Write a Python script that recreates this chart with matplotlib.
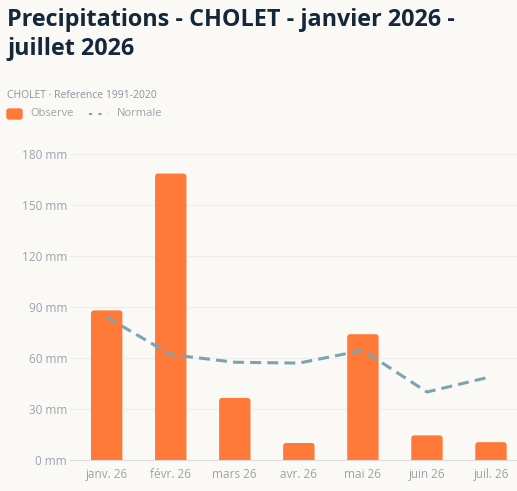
import matplotlib
matplotlib.use("Agg")
import matplotlib.pyplot as plt
from matplotlib.patches import FancyBboxPatch
from matplotlib.lines import Line2D

months = ["janv. 26", "févr. 26", "mars 26", "avr. 26", "mai 26", "juin 26", "juil. 26"]
observe = [88, 168.5, 36.5, 10, 74, 14.5, 10.5]
normale = [84, 62, 57.5, 57, 64.5, 40, 49]
yticks = [0, 30, 60, 90, 120, 150, 180]

bg = "#faf9f6"
orange = "#ff7a38"
teal = "#7ba5ae"
grey = "#9aa3ab"

W, H = 517, 491
fig = plt.figure(figsize=(W / 100, H / 100), dpi=100, facecolor=bg)
plt.rcParams["font.family"] = ["Open Sans", "DejaVu Sans"]

fig.text(7 / W, 1 - 8 / H, "Precipitations - CHOLET - janvier 2026 -\njuillet 2026",
         fontsize=16.8, fontweight="bold", color="#14283a", va="top", ha="left",
         linespacing=1.3)
fig.text(7 / W, 1 - 95 / H, "CHOLET · Reference 1991-2020", fontsize=7.5,
         color="#8a949c", va="center", ha="left")

# legend drawn by hand
fig.patches.append(FancyBboxPatch((7 / W, 1 - 119 / H), 15 / W, 10 / H,
                                  boxstyle="round,pad=0,rounding_size=0.004",
                                  transform=fig.transFigure, color=orange))
fig.text(30 / W, 1 - 114 / H, "Observe", fontsize=8, color=grey, va="center")
fig.lines.append(Line2D([89 / W, 108 / W], [1 - 114 / H] * 2, transform=fig.transFigure,
                        color=teal, lw=1.5, ls=(0, (1.5, 3))))
fig.text(117 / W, 1 - 114 / H, "Normale", fontsize=8, color=grey, va="center")

left, right = 70, 517
bottom, top = 460, 154
ax = fig.add_axes([left / W, 1 - bottom / H, (right - left) / W, (bottom - top) / H])
ax.set_facecolor(bg)
x = list(range(len(months)))
px_x = (right - left) / (6.406 + 0.573)
px_y = (bottom - top) / 180
for xi, v in zip(x, observe):
    ax.add_patch(FancyBboxPatch((xi - 0.245, -5), 0.49, v + 5,
                                boxstyle="round,pad=0,rounding_size=0.05",
                                mutation_aspect=px_x / px_y,
                                color=orange, lw=0, zorder=2))
ax.plot(x, normale, color=teal, lw=2.2, ls=(0, (3.6, 2)), zorder=3)

ax.set_xlim(-0.573, 6.406)
ax.set_ylim(0, 180)
ax.set_yticks(yticks)
ax.set_yticklabels([f"{t} mm" for t in yticks])
ax.set_xticks(x)
ax.set_xticklabels(months)
ax.tick_params(length=0, colors=grey, labelsize=8.5)
ax.tick_params(axis="y", pad=2)
ax.tick_params(axis="x", pad=6)
ax.grid(axis="y", color="#efedea", lw=0.8, zorder=0)
for s in ["top", "right", "left"]:
    ax.spines[s].set_visible(False)
ax.spines["bottom"].set_color("#dcdcdc")
ax.spines["bottom"].set_zorder(4)
ax.set_axisbelow(True)

fig.savefig("out.png", dpi=100, facecolor=bg)
